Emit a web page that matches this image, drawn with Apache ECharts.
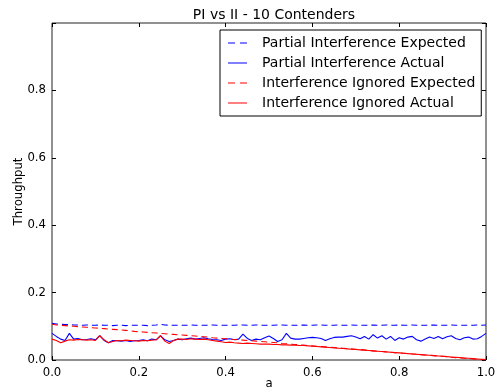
<!DOCTYPE html>
<html>
<head>
<meta charset="utf-8">
<script src="https://cdn.jsdelivr.net/npm/echarts@6/dist/echarts.min.js"></script>
<style>html,body{margin:0;padding:0;background:#fff}#c{width:498px;height:389px}</style>
</head>
<body>
<div id="c"></div>
<script>
const aValues = [0.00,0.01,0.02,0.03,0.04,0.05,0.06,0.07,0.08,0.09,
0.10,0.11,0.12,0.13,0.14,0.15,0.16,0.17,0.18,0.19,
0.20,0.21,0.22,0.23,0.24,0.25,0.26,0.27,0.28,0.29,
0.30,0.31,0.32,0.33,0.34,0.35,0.36,0.37,0.38,0.39,
0.40,0.41,0.42,0.43,0.44,0.45,0.46,0.47,0.48,0.49,
0.50,0.51,0.52,0.53,0.54,0.55,0.56,0.57,0.58,0.59,
0.60,0.61,0.62,0.63,0.64,0.65,0.66,0.67,0.68,0.69,
0.70,0.71,0.72,0.73,0.74,0.75,0.76,0.77,0.78,0.79,
0.80,0.81,0.82,0.83,0.84,0.85,0.86,0.87,0.88,0.89,
0.90,0.91,0.92,0.93,0.94,0.95,0.96,0.97,0.98,0.99,1.00];

const piExpected = [0.109,0.107,0.106,0.105,0.105,0.104,0.104,0.103,0.104,0.103,
0.103,0.104,0.103,0.103,0.102,0.103,0.103,0.102,0.103,0.103,
0.103,0.103,0.102,0.103,0.104,0.106,0.104,0.103,0.103,0.103,
0.103,0.103,0.104,0.103,0.103,0.103,0.103,0.104,0.103,0.103,
0.103,0.103,0.103,0.104,0.104,0.103,0.103,0.104,0.103,0.103,
0.103,0.103,0.104,0.104,0.103,0.103,0.103,0.103,0.104,0.103,
0.103,0.104,0.104,0.103,0.103,0.103,0.104,0.103,0.103,0.104,
0.103,0.103,0.103,0.103,0.104,0.103,0.103,0.104,0.103,0.103,
0.104,0.103,0.103,0.104,0.103,0.103,0.103,0.103,0.104,0.103,
0.103,0.103,0.104,0.103,0.103,0.103,0.103,0.103,0.104,0.103,0.104];

const piActual = [0.079,0.070,0.062,0.058,0.079,0.062,0.064,0.060,0.061,0.063,
0.060,0.072,0.058,0.051,0.058,0.057,0.056,0.058,0.055,0.057,
0.058,0.060,0.057,0.062,0.060,0.072,0.060,0.055,0.058,0.062,
0.060,0.063,0.065,0.062,0.064,0.066,0.063,0.061,0.060,0.058,
0.062,0.063,0.060,0.062,0.077,0.064,0.058,0.062,0.060,0.066,
0.071,0.064,0.055,0.060,0.079,0.065,0.062,0.062,0.064,0.066,
0.067,0.066,0.064,0.058,0.063,0.067,0.068,0.068,0.070,0.072,
0.068,0.063,0.070,0.062,0.075,0.065,0.072,0.062,0.070,0.058,
0.066,0.062,0.068,0.070,0.060,0.056,0.062,0.068,0.064,0.070,
0.063,0.069,0.072,0.064,0.060,0.066,0.068,0.062,0.063,0.070,0.079];

const iiExpected = [0.106,0.104,0.103,0.102,0.101,0.100,0.099,0.098,0.097,0.096,
0.095,0.094,0.093,0.092,0.091,0.090,0.089,0.088,0.087,0.085,
0.084,0.083,0.082,0.081,0.080,0.079,0.078,0.077,0.076,0.075,
0.074,0.073,0.072,0.071,0.070,0.069,0.068,0.066,0.065,0.064,
0.063,0.062,0.061,0.060,0.059,0.058,0.057,0.056,0.055,0.054,
0.053,0.052,0.051,0.049,0.048,0.047,0.046,0.045,0.044,0.043,
0.042,0.041,0.040,0.039,0.038,0.037,0.036,0.035,0.034,0.033,
0.032,0.031,0.030,0.028,0.027,0.026,0.025,0.024,0.023,0.022,
0.021,0.020,0.019,0.018,0.017,0.016,0.015,0.014,0.013,0.012,
0.011,0.010,0.008,0.007,0.006,0.005,0.004,0.003,0.002,0.001,0.000];

const iiActual = [0.062,0.058,0.051,0.056,0.060,0.059,0.061,0.060,0.059,0.060,
0.058,0.072,0.060,0.051,0.055,0.058,0.057,0.059,0.058,0.057,
0.056,0.058,0.057,0.059,0.060,0.072,0.056,0.049,0.058,0.062,
0.062,0.061,0.063,0.062,0.061,0.062,0.060,0.058,0.056,0.054,
0.052,0.053,0.051,0.050,0.049,0.050,0.049,0.048,0.047,0.047,
0.047,0.046,0.046,0.045,0.045,0.044,0.044,0.043,0.043,0.042,
0.041,0.040,0.039,0.038,0.037,0.036,0.035,0.034,0.033,0.032,
0.031,0.030,0.029,0.028,0.027,0.026,0.025,0.024,0.023,0.022,
0.021,0.020,0.019,0.018,0.017,0.016,0.015,0.014,0.013,0.012,
0.011,0.010,0.009,0.008,0.007,0.006,0.005,0.004,0.003,0.002,0.001];

const xTicks = ['0.0','0.2','0.4','0.6','0.8','1.0'];
const yTicks = ['0.0','0.2','0.4','0.6','0.8'];

const seriesNames = ['Partial Interference Expected','Partial Interference Actual','Interference Ignored Expected','Interference Ignored Actual'];
const seriesData = [piExpected, piActual, iiExpected, iiActual];
const seriesColors = ['#0000ff','#0000ff','#ff0000','#ff0000'];
const seriesDash = ['dashed','solid','dashed','solid'];

const FONT = 'DejaVu Sans';
const ICON_DASH = 'path://M0,0h7v1h-7z M12,0h7v1h-7z';
const ICON_SOLID = 'path://M0,0h19v1h-19z';

const chart = echarts.init(document.getElementById('c'), null, {renderer:'canvas'});

function axisBase() {
  return {
    min: 0, max: 1, interval: 0.2,
    axisLine: {show: false, onZero: false},
    axisTick: {show: true, inside: true, length: 4, lineStyle: {color: '#000', width: 1}},
    splitLine: {show: false}
  };
}

chart.setOption({
  animation: false,
  backgroundColor: '#fff',
  title: {
    text: 'PI vs II - 10 Contenders',
    left: 269, top: 3, textAlign: 'center',
    textStyle: {fontFamily: FONT, fontSize: 14, fontWeight: 'normal', color: '#000'}
  },
  grid: {left: 52, right: 12, top: 23, bottom: 29, show: true, borderColor: '#222', borderWidth: 1,
    backgroundColor: 'transparent', containLabel: false, outerBoundsMode: 'none'},
  legend: {
    data: seriesNames.map((n, k) => ({name: n, icon: seriesDash[k] === 'dashed' ? ICON_DASH : ICON_SOLID})),
    orient: 'vertical',
    left: 220, top: 30,
    padding: [5, 6, 5, 8],
    itemWidth: 19, itemHeight: 1.5, itemGap: 4,
    borderColor: '#000', borderWidth: 1, backgroundColor: '#fff',
    textStyle: {fontFamily: FONT, fontSize: 14, color: '#000', padding: [0, 0, 0, 10], lineHeight: 16}
  },
  xAxis: [
    Object.assign(axisBase(), {
      type: 'value', position: 'bottom',
      name: 'a', nameLocation: 'middle', nameGap: 18, nameMoveOverlap: false,
      nameTextStyle: {fontFamily: FONT, fontSize: 11.7, color: '#000'},
      axisLabel: {fontFamily: FONT, fontSize: 11.7, color: '#000', margin: 7,
        formatter: v => xTicks[Math.round(v / 0.2)]}
    }),
    Object.assign(axisBase(), {type: 'value', position: 'top', axisLabel: {show: false}})
  ],
  yAxis: [
    Object.assign(axisBase(), {
      type: 'value', position: 'left',
      name: 'Throughput', nameLocation: 'middle', nameGap: 27, nameMoveOverlap: false,
      nameTextStyle: {fontFamily: FONT, fontSize: 11.7, color: '#000'},
      axisLabel: {fontFamily: FONT, fontSize: 11.7, color: '#000', margin: 6,
        formatter: v => { const i = Math.round(v / 0.2); return i < yTicks.length ? yTicks[i] : ''; }}
    }),
    Object.assign(axisBase(), {type: 'value', position: 'right', axisLabel: {show: false}})
  ],
  series: seriesNames.map((n, k) => ({
    name: n, type: 'line', xAxisIndex: 0, yAxisIndex: 0,
    symbol: 'none', showSymbol: false,
    data: aValues.map((a, i) => [a, seriesData[k][i]]),
    lineStyle: {color: seriesColors[k], width: 1.1, type: seriesDash[k] === 'dashed' ? [6, 4] : 'solid'},
    itemStyle: {color: seriesColors[k]}
  }))
});
</script>
</body>
</html>
